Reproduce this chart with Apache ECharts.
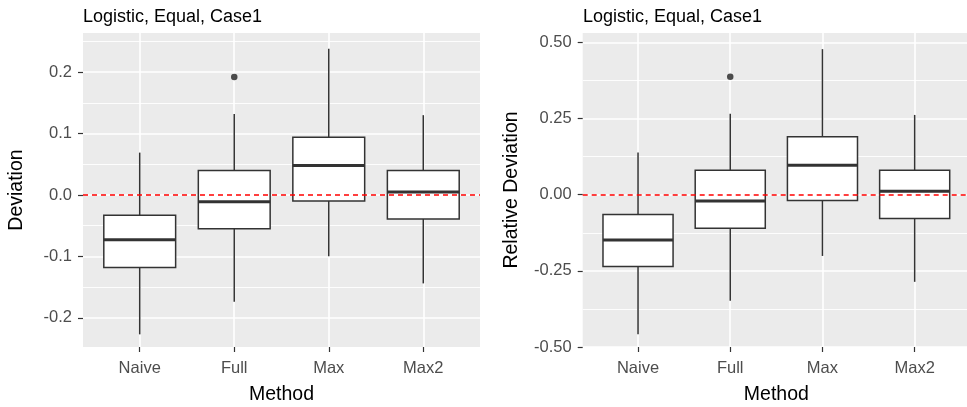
<!DOCTYPE html>
<html><head><meta charset="utf-8">
<script src="https://cdn.jsdelivr.net/npm/echarts@6/dist/echarts.min.js"></script>
<style>html,body{margin:0;padding:0;background:#fff}#c{width:967px;height:407px}</style>
</head><body><div id="c"></div>
<script>
const categories = ['Naive', 'Full', 'Max', 'Max2'];
const panelTitle = 'Logistic, Equal, Case1';
const xTitle = 'Method';
const leftYTitle = 'Deviation';
const rightYTitle = 'Relative Deviation';
// each row: [lower whisker, Q1, median, Q3, upper whisker]
const deviationBoxes = [
  [-0.227, -0.118, -0.073, -0.033, 0.069],
  [-0.174, -0.055, -0.011, 0.040, 0.132],
  [-0.100, -0.010, 0.048, 0.094, 0.238],
  [-0.144, -0.039, 0.005, 0.040, 0.130]
];
const deviationOutliers = [[2, 0.192]];
const relDeviationBoxes = [
  [-0.458, -0.236, -0.149, -0.065, 0.139],
  [-0.348, -0.110, -0.021, 0.080, 0.266],
  [-0.201, -0.019, 0.097, 0.190, 0.478],
  [-0.286, -0.078, 0.011, 0.080, 0.262]
];
const relDeviationOutliers = [[2, 0.387]];
const devMajorTicks = [-0.2, -0.1, 0, 0.1, 0.2];
const devMinorTicks = [-0.15, -0.05, 0.05, 0.15, 0.25];
const relMajorTicks = [-0.5, -0.25, 0, 0.25, 0.5];
const relMinorTicks = [-0.375, -0.125, 0.125, 0.375];
const devRange = [-0.2476, 0.2638];
const relRange = [-0.5, 0.531];
const referenceLine = 0;

const FONT = '"Liberation Sans", Arial, sans-serif';
const BOX_W = 0.76;
const catPos = categories.map((c, i) => i + 1);

function renderBox(params, api) {
  const x = api.value(0);
  const lo = api.coord([x, api.value(1)]);
  const q1 = api.coord([x, api.value(2)]);
  const md = api.coord([x, api.value(3)]);
  const q3 = api.coord([x, api.value(4)]);
  const hi = api.coord([x, api.value(5)]);
  const w = api.size([BOX_W, 0])[0];
  const cx = q1[0];
  const st = { stroke: '#333333', lineWidth: 1.5 };
  return { type: 'group', children: [
    { type: 'line', shape: { x1: cx, y1: q3[1], x2: cx, y2: hi[1] }, style: st },
    { type: 'line', shape: { x1: cx, y1: q1[1], x2: cx, y2: lo[1] }, style: st },
    { type: 'rect', shape: { x: cx - w / 2, y: q3[1], width: w, height: q1[1] - q3[1] },
      style: { fill: '#ffffff', stroke: '#333333', lineWidth: 1.5 } },
    { type: 'line', shape: { x1: cx - w / 2, y1: md[1], x2: cx + w / 2, y2: md[1] },
      style: { stroke: '#333333', lineWidth: 3 } }
  ]};
}

function makeX(gi) {
  return {
    type: 'value', gridIndex: gi, min: 0.4, max: 4.6, position: 'bottom',
    name: xTitle, nameLocation: 'middle', nameGap: 38,
    nameTextStyle: { fontSize: 19.5, color: '#000', fontFamily: FONT },
    axisLine: { show: false, onZero: false },
    axisTick: { show: true, customValues: catPos, length: 5, lineStyle: { color: '#333333', width: 1.2 } },
    axisLabel: { customValues: catPos, formatter: v => categories[Math.round(v) - 1], color: '#4d4d4d',
      fontSize: 16.5, fontFamily: FONT, margin: 13 },
    splitLine: { show: true, lineStyle: { color: '#ffffff', width: 1.6 } }
  };
}
function makeYMajor(gi, range, ticks, digits, name, gap) {
  return {
    type: 'value', gridIndex: gi, min: range[0], max: range[1], position: 'left',
    name: name, nameLocation: 'middle', nameGap: gap,
    nameTextStyle: { fontSize: 19.5, color: '#000', fontFamily: FONT },
    axisLine: { show: false, onZero: false },
    axisTick: { show: true, customValues: ticks, length: 5, lineStyle: { color: '#333333', width: 1.2 } },
    axisLabel: { customValues: ticks, formatter: v => v.toFixed(digits), color: '#4d4d4d',
      fontSize: 16.5, fontFamily: FONT, margin: 11 },
    splitLine: { show: true, lineStyle: { color: '#ffffff', width: 1.6 } }
  };
}
function makeYMinor(gi, range, ticks) {
  return {
    type: 'value', gridIndex: gi, min: range[0], max: range[1], position: 'left',
    axisLine: { show: false, onZero: false },
    axisTick: { show: false, customValues: ticks },
    axisLabel: { show: false, customValues: ticks },
    splitLine: { show: true, lineStyle: { color: '#ffffff', width: 0.9 } }
  };
}
function seriesFor(xi, yi, boxes, outliers) {
  return [
    { type: 'custom', xAxisIndex: xi, yAxisIndex: yi, renderItem: renderBox,
      encode: { x: 0, y: [1, 2, 3, 4, 5] }, silent: true,
      data: boxes.map((b, i) => [catPos[i]].concat(b)) },
    { type: 'scatter', xAxisIndex: xi, yAxisIndex: yi, symbolSize: 6.5, silent: true,
      itemStyle: { color: '#222222' }, data: outliers,
      markLine: { silent: true, symbol: 'none', label: { show: false },
        lineStyle: { color: '#ff0000', type: [5, 4], width: 1.5 },
        data: [{ yAxis: referenceLine }] } }
  ];
}

const chart = echarts.init(document.getElementById('c'), null, { renderer: 'canvas' });
chart.setOption({
  animation: false,
  backgroundColor: '#ffffff',
  title: [
    { text: panelTitle, left: 83, top: 8, padding: 0, textStyle: { fontSize: 18, fontWeight: 'normal', color: '#000', fontFamily: FONT } },
    { text: panelTitle, left: 583, top: 8, padding: 0, textStyle: { fontSize: 18, fontWeight: 'normal', color: '#000', fontFamily: FONT } }
  ],
  grid: [
    { left: 83, top: 33, width: 397, height: 314, show: true, backgroundColor: '#ebebeb', borderWidth: 0,
      containLabel: false, outerBoundsMode: 'none' },
    { left: 582.7, top: 33, width: 387.3, height: 314, show: true, backgroundColor: '#ebebeb', borderWidth: 0,
      containLabel: false, outerBoundsMode: 'none' }
  ],
  xAxis: [makeX(0), makeX(1)],
  yAxis: [
    makeYMinor(0, devRange, devMinorTicks),
    makeYMajor(0, devRange, devMajorTicks, 1, leftYTitle, 56),
    makeYMinor(1, relRange, relMinorTicks),
    makeYMajor(1, relRange, relMajorTicks, 2, rightYTitle, 61)
  ],
  series: [].concat(
    seriesFor(0, 1, deviationBoxes, deviationOutliers),
    seriesFor(1, 3, relDeviationBoxes, relDeviationOutliers)
  )
});
</script></body></html>
